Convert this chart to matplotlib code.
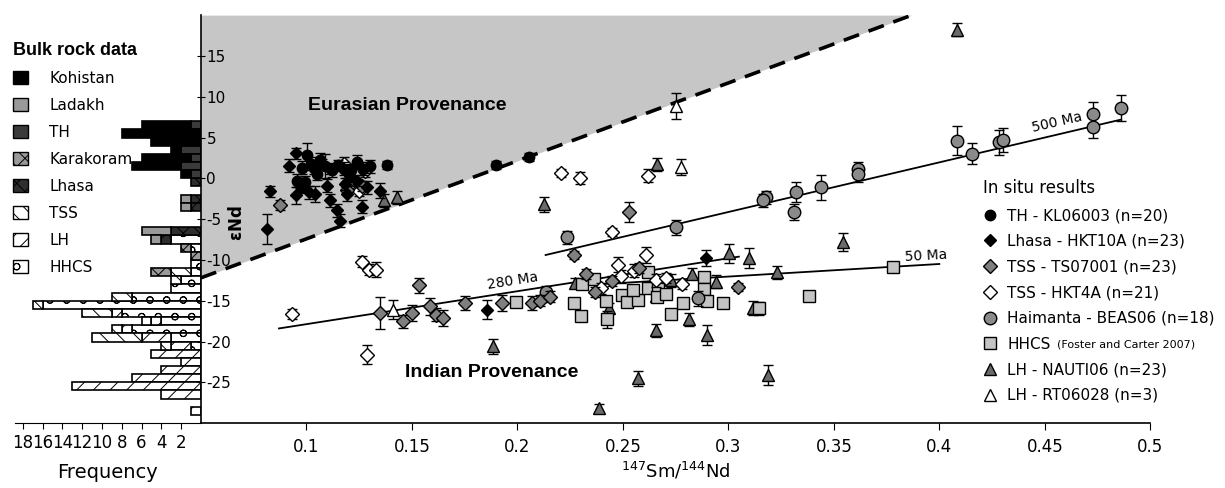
import numpy as np
import matplotlib
matplotlib.use("Agg")
import matplotlib.pyplot as plt
from matplotlib.patches import Patch
from matplotlib.lines import Line2D

plt.rcParams['font.family'] = ['DejaVu Sans']
plt.rcParams['axes.unicode_minus'] = False
plt.rcParams['hatch.linewidth'] = 0.7

# ---------------- bulk rock histogram (frequency per 1 epsilon-unit bin) ----------------
bin_top = np.arange(7, -29, -1)          # upper edge of each bin, 7 ... -28
hist_names = ['Kohistan', 'Ladakh', 'TH', 'Karakoram', 'Lhasa', 'TSS', 'LH', 'HHCS']
kohistan = [5, 8, 5, 1, 5, 5, 1, 0, 0, 0, 0, 0, 0, 0, 0, 0, 0, 0, 0, 0, 0, 0, 0, 0, 0, 0, 0, 0, 0, 0, 0, 0, 0, 0, 0, 0]
ladakh   = [0, 0, 0, 0, 0, 0, 0, 0, 0, 1, 1, 0, 0, 3, 1, 0, 0, 0, 0, 0, 0, 0, 0, 0, 0, 0, 0, 0, 0, 0, 0, 0, 0, 0, 0, 0]
th       = [1, 0, 0, 2, 1, 2, 1, 0, 0, 0, 0, 0, 0, 0, 0, 0, 0, 0, 0, 0, 0, 0, 0, 0, 0, 0, 0, 0, 0, 0, 0, 0, 0, 0, 0, 0]
karakoram = [0, 0, 0, 0, 0, 0, 0, 0, 0, 0, 0, 0, 0, 0, 0, 1, 1, 0, 2, 0, 0, 0, 0, 0, 0, 0, 0, 0, 0, 0, 0, 0, 0, 0, 0, 0]
lhasa    = [0, 0, 0, 0, 0, 0, 0, 1, 0, 1, 1, 0, 0, 3, 1, 0, 0, 0, 0, 0, 0, 0, 0, 0, 0, 0, 0, 0, 0, 0, 0, 0, 0, 0, 0, 0]
tss      = [0, 0, 0, 0, 0, 0, 0, 0, 0, 0, 0, 0, 0, 0, 0, 0, 0, 0, 2, 1, 0, 2, 1, 3, 1, 1, 5, 1, 0, 0, 0, 0, 0, 0, 0, 0]
lh       = [0, 0, 0, 0, 0, 0, 0, 0, 0, 0, 0, 0, 0, 0, 0, 0, 0, 0, 0, 0, 0, 0, 0, 1, 1, 1, 3, 2, 5, 2, 4, 7, 13, 4, 0, 1]
hhcs     = [0, 0, 0, 0, 0, 0, 0, 0, 0, 0, 0, 0, 0, 0, 3, 1, 0, 1, 1, 2, 3, 7, 16, 8, 4, 7, 3, 1, 0, 0, 0, 0, 0, 0, 0, 0]

hist_style = {
    'Kohistan':  dict(fc='black', hatch=None),
    'Ladakh':    dict(fc='#9a9a9a', hatch=None),
    'TH':        dict(fc='#3a3a3a', hatch=None),
    'Karakoram': dict(fc='#9a9a9a', hatch='xx'),
    'Lhasa':     dict(fc='#2e2e2e', hatch='xx'),
    'TSS':       dict(fc='white', hatch='\\\\'),
    'LH':        dict(fc='white', hatch='//'),
    'HHCS':      dict(fc='white', hatch='o'),
}

# ---------------- in situ results: 147Sm/144Nd, eps Nd, 2 sigma ----------------
th_x = [0.1005, 0.098, 0.1035, 0.1065, 0.109, 0.112, 0.0955, 0.0995, 0.118, 0.1195,
        0.124, 0.127, 0.130, 0.138, 0.1897, 0.2055, 0.102, 0.115, 0.121, 0.105]
th_y = [2.8, 1.3, 1.3, 2.2, 1.5, 1.0, -0.3, -0.5, 1.2, 0.8,
        2.0, 1.2, 1.5, 1.6, 1.6, 2.6, 1.8, 1.6, 1.0, 0.5]
th_e = [1.5, 0.8, 0.8, 0.9, 1.5, 0.8, 0.8, 0.8, 0.8, 0.8,
        0.9, 0.8, 0.8, 0.5, 0.5, 0.5, 0.8, 0.7, 0.7, 0.7]

lhasa_x = [0.0953, 0.0916, 0.0953, 0.1011, 0.1043, 0.1099, 0.1113, 0.1113, 0.1146, 0.1161,
           0.1193, 0.1265, 0.1289, 0.135, 0.0827, 0.0814, 0.1185, 0.1205, 0.1857, 0.2893,
           0.1075, 0.124, 0.0975]
lhasa_y = [3.05, 1.55, -2.1, -1.7, -1.9, -0.9, 1.2, -2.7, -3.9, -5.2,
           -1.9, -3.5, -1.1, -1.5, -1.6, -6.2, -0.7, 0.3, -16.1, -9.8,
           1.8, -0.3, -1.1]
lhasa_e = [0.7, 0.8, 1.0, 0.8, 1.0, 0.8, 0.7, 0.8, 0.8, 0.8,
           0.9, 0.8, 0.8, 0.9, 0.7, 1.8, 0.7, 0.7, 1.2, 1.0,
           0.6, 0.7, 0.7]

ts07_x = [0.0877, 0.1193, 0.1193, 0.1265, 0.1533, 0.135, 0.1459, 0.1502, 0.1588, 0.1612,
          0.1649, 0.1754, 0.1929, 0.207, 0.2268, 0.2324, 0.237, 0.3044, 0.253, 0.2105,
          0.2155, 0.2578, 0.2447]
ts07_y = [-3.3, -0.6, -1.4, -0.9, -13.1, -16.5, -17.5, -16.5, -15.7, -16.7,
          -17.1, -15.3, -15.3, -15.3, -9.4, -11.7, -13.9, -13.3, -4.1, -15.0,
          -14.5, -11.0, -12.6]
ts07_e = [0.6, 0.6, 0.6, 0.6, 0.9, 2.0, 0.8, 1.0, 1.0, 0.8,
          1.0, 0.9, 1.0, 0.9, 0.5, 0.6, 0.6, 0.5, 1.2, 0.7,
          0.7, 0.6, 0.6]

hkt4_x = [0.1177, 0.1277, 0.0932, 0.1262, 0.1296, 0.1328, 0.1288, 0.2205, 0.2297, 0.262,
          0.245, 0.2477, 0.2608, 0.2493, 0.2555, 0.2655, 0.2705, 0.1195, 0.125, 0.2395, 0.278]
hkt4_y = [1.8, 0.85, -16.6, -10.2, -11.2, -11.2, -21.6, 0.7, 0.05, 0.3,
          -6.6, -10.6, -9.4, -12.0, -11.3, -12.5, -12.2, -1.0, -1.6, -13.5, -13.0]
hkt4_e = [0.8, 0.7, 0.6, 0.7, 0.7, 0.9, 1.2, 0.5, 0.7, 0.8,
          0.5, 0.9, 1.0, 0.8, 0.8, 0.8, 0.6, 0.6, 0.6, 0.7, 0.6]

beas_x = [0.2237, 0.2751, 0.3178, 0.3165, 0.332, 0.3312, 0.3439, 0.3613, 0.3613, 0.4084,
          0.4155, 0.4285, 0.4304, 0.4728, 0.4728, 0.486, 0.2134, 0.2854]
beas_y = [-7.2, -6.0, -2.3, -2.7, -1.7, -4.1, -1.1, 1.1, 0.5, 4.6,
          3.0, 4.4, 4.7, 7.9, 6.3, 8.6, -13.9, -14.7]
beas_e = [0.8, 0.9, 0.8, 0.8, 1.2, 1.0, 1.5, 0.9, 0.9, 1.8,
          1.3, 1.5, 1.5, 1.4, 1.4, 1.6, 0.7, 0.9]

hhcs_x = [0.1992, 0.2268, 0.23, 0.2308, 0.2419, 0.2427, 0.2498, 0.2522, 0.257, 0.2546,
          0.2617, 0.2617, 0.2665, 0.2661, 0.2727, 0.2787, 0.2885, 0.2885, 0.2898, 0.2977,
          0.3146, 0.3383, 0.3779, 0.2365, 0.2705]
hhcs_y = [-15.1, -15.3, -16.9, -12.9, -15.0, -17.3, -14.3, -15.1, -14.9, -13.7,
          -11.5, -13.5, -13.5, -14.5, -16.6, -15.3, -12.1, -13.6, -15.0, -15.3,
          -15.9, -14.4, -10.9, -12.4, -14.2]
hhcs_e = [0.3, 0.3, 0.3, 0.3, 0.5, 1.0, 0.3, 0.3, 0.5, 0.3,
          0.3, 0.5, 0.3, 0.5, 0.5, 0.5, 0.3, 0.5, 0.5, 0.5,
          0.8, 0.3, 0.5, 0.3, 0.3]

naut_x = [0.1367, 0.143, 0.2126, 0.2664, 0.3542, 0.4084, 0.1886, 0.3004, 0.3099, 0.3233,
          0.283, 0.2727, 0.294, 0.2655, 0.2814, 0.2898, 0.257, 0.3189, 0.2387, 0.3119,
          0.2655, 0.2275, 0.2435]
naut_y = [-2.7, -2.3, -3.2, 1.75, -7.8, 18.2, -20.6, -9.2, -9.8, -11.5,
          -11.7, -12.5, -12.7, -18.6, -17.3, -19.2, -24.5, -24.1, -28.1, -15.9,
          -14.4, -12.8, -15.9]
naut_e = [0.8, 0.8, 0.9, 0.8, 1.1, 0.8, 0.9, 1.2, 1.2, 0.8,
          0.7, 0.8, 0.8, 0.8, 0.8, 1.2, 0.9, 1.2, 0.5, 0.9,
          0.7, 0.6, 0.6]

rt_x = [0.2751, 0.2775, 0.1411]
rt_y = [8.9, 1.35, -16.1]
rt_e = [1.6, 1.0, 1.2]

# provenance boundary and reference isochrons (end points)
bound_x = [0.05, 0.387]
bound_y = [-12.2, 20.0]
iso280_x = [0.087, 0.305]
iso280_y = [-18.4, -9.6]
iso500_x = [0.2134, 0.4862]
iso500_y = [-9.4, 7.2]
iso50_x = [0.2314, 0.400]
iso50_y = [-13.1, -10.5]

series = [
    ('TH - KL06003 (n=20)', th_x, th_y, th_e, dict(marker='o', ms=7.5, mfc='black')),
    ('Lhasa - HKT10A (n=23)', lhasa_x, lhasa_y, lhasa_e, dict(marker='D', ms=6.3, mfc='black')),
    ('TSS - TS07001 (n=23)', ts07_x, ts07_y, ts07_e, dict(marker='D', ms=7.2, mfc='#7f7f7f')),
    ('TSS - HKT4A (n=21)', hkt4_x, hkt4_y, hkt4_e, dict(marker='D', ms=6.8, mfc='white')),
    ('Haimanta - BEAS06 (n=18)', beas_x, beas_y, beas_e, dict(marker='o', ms=9.0, mfc='#8a8a8a')),
    ('HHCS', hhcs_x, hhcs_y, hhcs_e, dict(marker='s', ms=8.0, mfc='#c4c4c4')),
    ('LH - NAUTI06 (n=23)', naut_x, naut_y, naut_e, dict(marker='^', ms=9.0, mfc='#6a6a6a')),
    ('LH - RT06028 (n=3)', rt_x, rt_y, rt_e, dict(marker='^', ms=9.0, mfc='white')),
]

fig = plt.figure(figsize=(12.25, 4.88), dpi=100)
ax_h = fig.add_axes([0.0122, 0.133, 0.1518, 0.836])
ax = fig.add_axes([0.164, 0.133, 0.775, 0.836])

# ---- histogram ----
left = np.zeros(len(bin_top))
stack_order = ['HHCS', 'LH', 'TSS', 'Lhasa', 'Karakoram', 'TH', 'Ladakh', 'Kohistan']
counts = dict(zip(hist_names, [kohistan, ladakh, th, karakoram, lhasa, tss, lh, hhcs]))
for name in stack_order:
    c = np.array(counts[name], dtype=float)
    m = c > 0
    st = hist_style[name]
    ax_h.barh(bin_top[m] - 1, c[m], left=left[m], height=1, align='edge',
              color=st['fc'], edgecolor='black', hatch=st['hatch'], linewidth=1.2)
    left += c
ax_h.set_xlim(18.8, 0)
ax_h.set_ylim(-30, 20)
ax_h.spines['top'].set_visible(False)
ax_h.spines['left'].set_visible(False)
ax_h.spines['right'].set_visible(False)
ax_h.set_xticks(np.arange(2, 19, 2))
ax_h.set_xticklabels([str(v) for v in np.arange(2, 19, 2)], fontsize=12)
ax_h.tick_params(axis='x', direction='out', length=4, pad=4)
ax_h.set_yticks([])
ax_h.set_xlabel('Frequency', fontsize=14, labelpad=8)

hist_handles = [Patch(facecolor=hist_style[n]['fc'], edgecolor='black',
                      hatch=hist_style[n]['hatch'], label=n) for n in hist_names]
leg_h = fig.legend(handles=hist_handles, loc='upper left', bbox_to_anchor=(0.004, 0.93),
                   frameon=False, fontsize=11, handlelength=1.0, handleheight=1.0,
                   labelspacing=0.78, handletextpad=1.4, borderpad=0,
                   title='Bulk rock data', alignment='left',
                   title_fontproperties=dict(family='Liberation Sans', weight='bold', size=13))

# ---- main scatter ----
ax.set_xlim(0.05, 0.5)
ax.set_ylim(-30, 20)
xs = np.array(bound_x)
ax.fill_between(xs, bound_y, 20, color='#c6c6c6', lw=0, zorder=0)
ax.plot(bound_x, bound_y, color='black', lw=2.6, ls=(0, (4.5, 2.8)), zorder=1)
for lx, ly in [(iso280_x, iso280_y), (iso500_x, iso500_y), (iso50_x, iso50_y)]:
    ax.plot(lx, ly, color='black', lw=1.3, zorder=2)

handles = []
for z, (lab, x, y, e, st) in enumerate(series[::-1]):
    ax.errorbar(x, y, yerr=e, fmt='none', ecolor='black', elinewidth=1.0,
                capsize=3.5, capthick=1.0, zorder=3 + z)
    ax.plot(x, y, ls='none', mec='black', mew=1.0, zorder=3 + z, **st)
for lab, x, y, e, st in series:
    handles.append(Line2D([], [], ls='none', mec='black', mew=1.0, label=lab, **st))

ax.text(0.148, 8.9, 'Eurasian Provenance', fontsize=14, fontweight='bold',
        family='Liberation Sans', ha='center', va='center')
ax.text(0.1878, -23.8, 'Indian Provenance', fontsize=14, fontweight='bold',
        family='Liberation Sans', ha='center', va='center')
ax.text(0.198, -12.6, '280 Ma', fontsize=10, rotation=9, ha='center', va='center')
ax.text(0.4559, 6.9, '500 Ma', fontsize=10, rotation=13, ha='center', va='center')
ax.text(0.3937, -9.5, '50 Ma', fontsize=10, rotation=3, ha='center', va='center')
ax.text(0.038, 0.49, r'$\mathbf{\epsilon}$Nd', transform=ax.transAxes, rotation=90,
        fontsize=12, fontweight='bold', ha='center', va='center')

for s in ['top', 'right']:
    ax.spines[s].set_visible(False)
ax.spines['left'].set_linewidth(1.2)
ax.spines['bottom'].set_linewidth(1.2)
xt = [0.1, 0.15, 0.2, 0.25, 0.3, 0.35, 0.4, 0.45, 0.5]
ax.set_xticks(xt)
ax.set_xticklabels(['0.1', '0.15', '0.2', '0.25', '0.3', '0.35', '0.4', '0.45', '0.5'], fontsize=12)
ax.tick_params(axis='x', direction='out', length=5, pad=6)
yt = [-25, -20, -15, -10, -5, 0, 5, 10, 15]
ax.set_yticks(yt)
ax.set_yticklabels([str(v) for v in yt], fontsize=11)
ax.tick_params(axis='y', direction='inout', length=6, pad=-7)
for t in ax.get_yticklabels():
    t.set_horizontalalignment('left')
ax.set_xlabel(r'$^{147}$Sm/$^{144}$Nd', fontsize=13, labelpad=3)

leg = ax.legend(handles=handles, loc='upper left', bbox_to_anchor=(0.796, 0.648),
                bbox_transform=fig.transFigure, frameon=False, fontsize=11,
                handlelength=1.0, handletextpad=0.6, labelspacing=0.7, borderpad=0,
                title='In situ results', alignment='left', title_fontsize=12)
fig.canvas.draw()
for t in leg.get_texts():
    if t.get_text() == 'HHCS':
        bb = t.get_window_extent()
        fig.text((bb.x1 + 6) / fig.bbox.width, (bb.y0 + 2) / fig.bbox.height,
                 '(Foster and Carter 2007)', fontsize=8, ha='left', va='bottom')

fig.savefig('out.png', dpi=100)
